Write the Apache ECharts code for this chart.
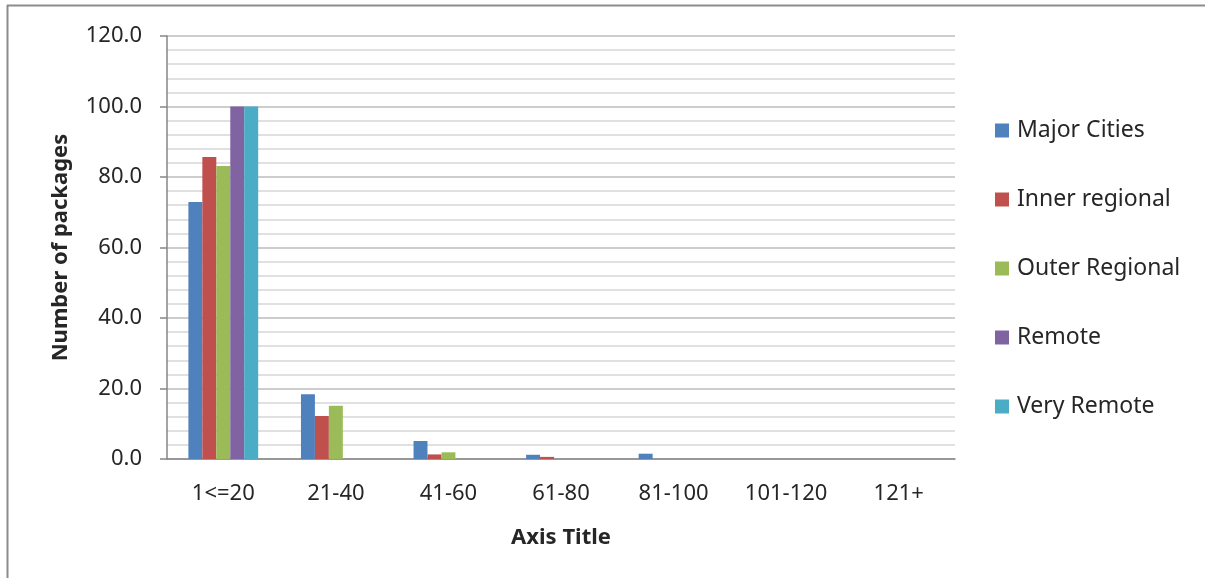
<!DOCTYPE html>
<html>
<head>
<meta charset="utf-8">
<script src="https://cdn.jsdelivr.net/npm/echarts@6/dist/echarts.min.js"></script>
<style>
  html, body { margin: 0; padding: 0; background: #ffffff; }
  #chart { width: 1205px; height: 578px; }
</style>
</head>
<body>
<div id="chart"></div>
<script>
// Package counts by size band, split by remoteness area
const categories = ['1<=20', '21-40', '41-60', '61-80', '81-100', '101-120', '121+'];
const majorCities   = [72.9, 18.4, 5.1, 1.2, 1.5, 0, 0];
const innerRegional = [85.7, 12.2, 1.3, 0.6, 0, 0, 0];
const outerRegional = [83.1, 15.1, 1.9, 0, 0, 0, 0];
const remote        = [100.0, 0, 0, 0, 0, 0, 0];
const veryRemote    = [100.0, 0, 0, 0, 0, 0, 0];

const seriesNames = ['Major Cities', 'Inner regional', 'Outer Regional', 'Remote', 'Very Remote'];
const seriesValues = [majorCities, innerRegional, outerRegional, remote, veryRemote];
const seriesColors = ['#4F81BD', '#C0504D', '#9BBB59', '#8064A2', '#4BACC6'];

const FONT = '"Noto Sans", sans-serif';
const TEXT = '#262626';
const AXIS = '#868686';

const chart = echarts.init(document.getElementById('chart'), null, { renderer: 'canvas' });

chart.setOption({
  animation: false,
  backgroundColor: '#ffffff',
  textStyle: { fontFamily: FONT, color: TEXT },
  // outer frame: top and left edges
  graphic: [
    { type: 'line', shape: { x1: 7, y1: 5.5, x2: 1205, y2: 5.5 },
      style: { stroke: '#8c8c8c', lineWidth: 2 } },
    { type: 'line', shape: { x1: 7.5, y1: 5, x2: 7.5, y2: 578 },
      style: { stroke: '#8c8c8c', lineWidth: 2 } }
  ],
  grid: { left: 167, right: 250, top: 36, bottom: 119, containLabel: false },
  legend: {
    orient: 'vertical',
    left: 995,
    top: 119,
    padding: 0,
    itemWidth: 14,
    itemHeight: 14,
    itemGap: 46,
    icon: 'rect',
    textStyle: { fontFamily: FONT, fontSize: 23, color: TEXT, padding: [0, 0, 0, 3] },
    data: seriesNames
  },
  xAxis: {
    type: 'category',
    data: categories,
    name: 'Axis Title',
    nameLocation: 'middle',
    nameGap: 68,
    nameTextStyle: { fontFamily: FONT, fontSize: 22, fontWeight: 'bold', color: TEXT },
    axisLine: { lineStyle: { color: AXIS, width: 1.5 } },
    axisTick: { show: false },
    axisLabel: { fontFamily: FONT, fontSize: 22, color: TEXT, margin: 24 }
  },
  yAxis: {
    type: 'value',
    min: 0,
    max: 120,
    interval: 20,
    name: 'Number of packages',
    nameLocation: 'middle',
    nameGap: 95,
    nameRotate: 90,
    nameTextStyle: { fontFamily: FONT, fontSize: 22, fontWeight: 'bold', color: TEXT },
    axisLine: { show: true, lineStyle: { color: AXIS, width: 1.5 } },
    axisTick: { show: true, length: 7, lineStyle: { color: AXIS, width: 1.5 } },
    axisLabel: { fontFamily: FONT, fontSize: 22, color: TEXT, margin: 25,
                 formatter: v => v.toFixed(1) },
    splitLine: { show: true, lineStyle: { color: '#bcbcbc', width: 1.5 } },
    minorTick: { show: false, splitNumber: 5 },
    minorSplitLine: { show: true, lineStyle: { color: '#d6d6d6', width: 1.5 } }
  },
  series: seriesNames.map((name, i) => ({
    name: name,
    type: 'bar',
    data: seriesValues[i],
    barGap: '0%',
    barCategoryGap: '38%',
    itemStyle: { color: seriesColors[i] }
  }))
});
</script>
</body>
</html>
